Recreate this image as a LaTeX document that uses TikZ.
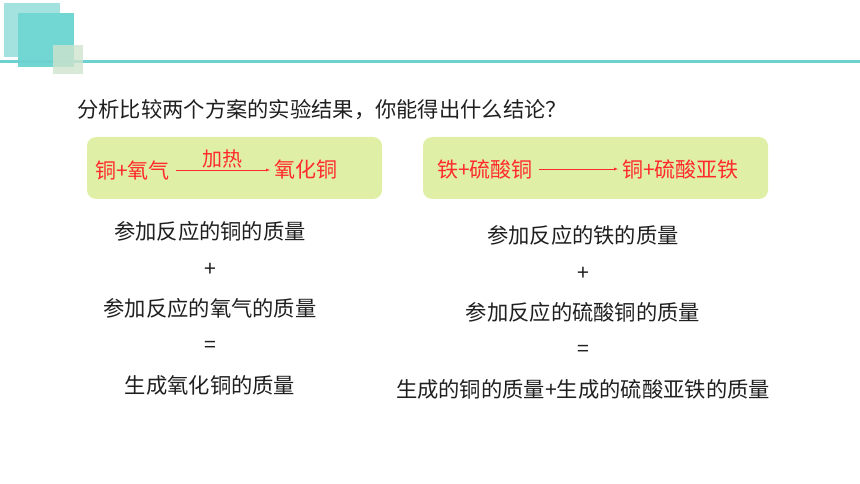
\documentclass[tikz,border=0pt]{standalone}
\usepackage{fontspec}
\setmainfont{Noto Sans CJK SC}
\usepackage{xcolor}
\usepackage{tikz}
\usetikzlibrary{positioning}

\definecolor{tealA}{HTML}{A4E2E0}
\definecolor{tealB}{HTML}{72D6D3}
\definecolor{tealLine}{HTML}{6DD2CF}
\definecolor{paleSq}{HTML}{CFE3CD}
\definecolor{boxGreen}{HTML}{E0EFA6}
\definecolor{redTxt}{HTML}{FF2A2A}

\begin{document}
\begin{tikzpicture}[x=1pt, y=-1pt, node distance={38.5pt},
    txt/.style = {font=\fontsize{21.3}{24}\selectfont, text=black!88},
    eq/.style = {font=\fontsize{21}{24}\selectfont, text=redTxt, inner sep=3pt, anchor=west},
    panel/.style = {fill=boxGreen, rounded corners=9pt},
    arr/.style = {draw=redTxt, -latex, shorten >=1pt, shorten <=3pt}]
    \useasboundingbox (0,0) rectangle (860,484);

    % corner decoration
    \fill[tealA]   (4,3)   rectangle (60,57);
    \fill[tealB]   (18,13) rectangle (74,67);
    \fill[tealLine] (0,60) rectangle (860,63);
    \fill[paleSq, fill opacity=0.8] (53,45) rectangle (83,74);

    \node[txt, anchor=west, inner sep=0pt] (q) at (77,110) {分析比较两个方案的实验结果，你能得出什么结论？};

    % the two reactions
    \fill[panel] (87,137)  rectangle (382,199);
    \fill[panel] (423,137) rectangle (768,199);

    \node[eq] (r1) at (92,170)  {铜+氧气};
    \node[eq] (p1) at (271,170) {氧化铜};
    \node[eq] (r2) at (434,169) {铁+硫酸铜};
    \node[eq] (p2) at (619,169) {铜+硫酸亚铁};

    \draw[arr] (r1) -- node[above=-2pt, text=redTxt, font=\fontsize{20}{22}\selectfont] (heat) {加热} (p1);
    \draw[arr] (r2) -- (p2);

    % left column
    \node[txt] (a1) at (210,231) {参加反应的铜的质量};
    \node[txt] (a2) [below of=a1] {+};
    \node[txt] (a3) [below of=a2] {参加反应的氧气的质量};
    \node[txt] (a4) [below of=a3] {=};
    \node[txt] (a5) [below of=a4] {生成氧化铜的质量};

    % right column
    \node[txt] (b1) at (583,235) {参加反应的铁的质量};
    \node[txt] (b2) [below of=b1] {+};
    \node[txt] (b3) [below of=b2] {参加反应的硫酸铜的质量};
    \node[txt] (b4) [below of=b3] {=};
    \node[txt] (b5) [below of=b4] {生成的铜的质量+生成的硫酸亚铁的质量};

\end{tikzpicture}
\end{document}
